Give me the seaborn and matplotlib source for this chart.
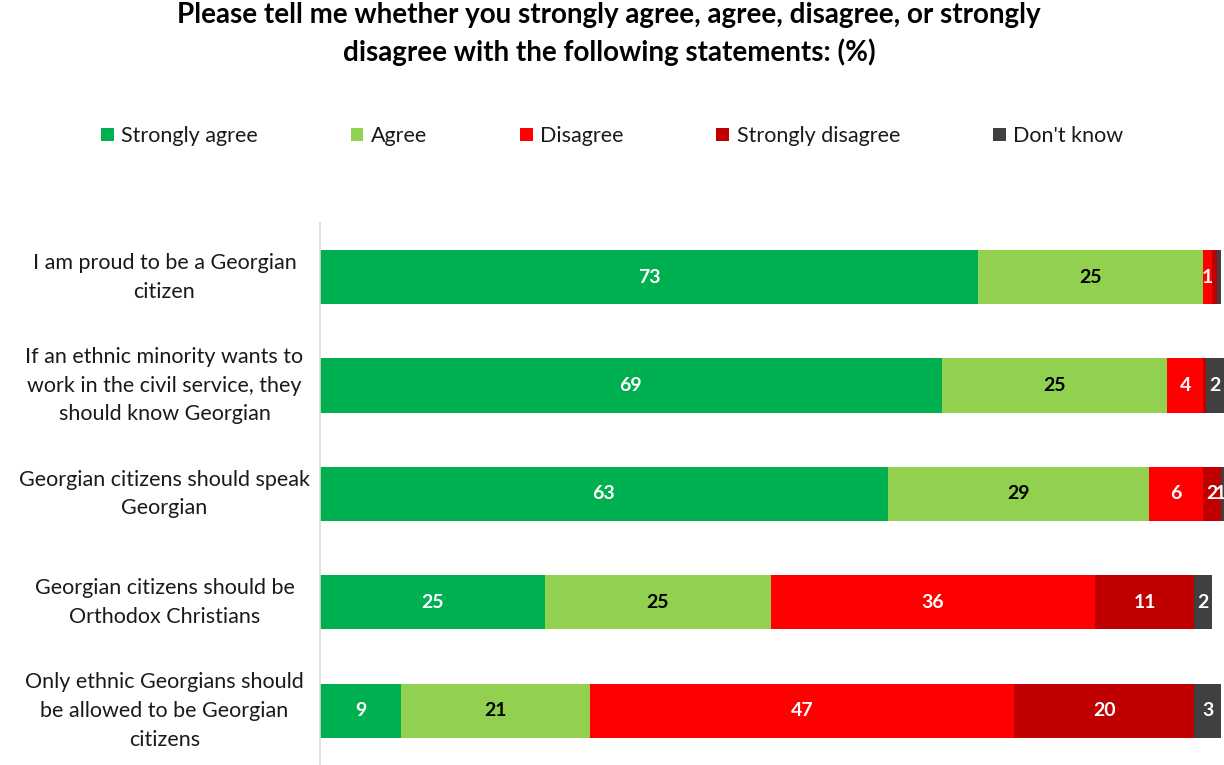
import matplotlib
matplotlib.use("Agg")
import matplotlib.pyplot as plt
import matplotlib.transforms as mtransforms
from matplotlib.patches import Patch
import pandas as pd
import seaborn as sns

# Survey statements (top to bottom)
statements = [
    "I am proud to be a Georgian\ncitizen",
    "If an ethnic minority wants to\nwork in the civil service, they\nshould know Georgian",
    "Georgian citizens should speak\nGeorgian",
    "Georgian citizens should be\nOrthodox Christians",
    "Only ethnic Georgians should\nbe allowed to be Georgian\ncitizens",
]

# Response shares (%)
strongly_agree = [73, 69, 63, 25, 9]
agree = [25, 25, 29, 25, 21]
disagree = [1, 4, 6, 36, 47]
strongly_disagree = [0.5, 0.3, 2, 11, 20]
dont_know = [0.5, 2, 1, 2, 3]

responses = ["Strongly agree", "Agree", "Disagree", "Strongly disagree", "Don't know"]
colors = ["#00B050", "#92D050", "#FF0000", "#C00000", "#404040"]
label_colors = ["white", "black", "white", "white", "white"]

title = ("Please tell me whether you strongly agree, agree, disagree, or strongly\n"
         "disagree with the following statements: (%)")

series = [strongly_agree, agree, disagree, strongly_disagree, dont_know]
df = pd.DataFrame({name: vals for name, vals in zip(responses, series)})
df["statement"] = statements
cum = df[responses].cumsum(axis=1)

sns.set_theme(style="white")
plt.rcParams["font.family"] = ["Lato", "DejaVu Sans"]

XMAX = 100.3

fig = plt.figure(figsize=(12.24, 7.65), dpi=100)
ax = fig.add_axes([0.2614, 0.0, 0.7386, 0.7085])

# Stacked bars: draw cumulative totals from the outermost segment inward
for name, col in reversed(list(zip(responses, colors))):
    sns.barplot(x=cum[name], y=df["statement"], color=col, orient="h",
                width=0.5, saturation=1, ax=ax, linewidth=0)

# Segment value labels
for i in range(len(statements)):
    left = 0.0
    for name, tc in zip(responses, label_colors):
        v = df.loc[i, name]
        if round(v) >= 1:
            xc = min(left + v / 2, XMAX - 0.4)
            ax.text(xc, i, f"{v:g}", ha="center", va="center",
                    color=tc, fontsize=14, fontweight="bold")
        left += v

ax.set_xlim(0, XMAX)
ax.set_ylim(4.5, -0.5)
ax.set_xlabel("")
ax.set_ylabel("")
ax.set_xticks([])
ax.set_yticks(range(len(statements)))
ax.set_yticklabels([])
ax.tick_params(axis="y", length=0)

# Category labels, centred in the left margin
trans = mtransforms.blended_transform_factory(ax.transAxes, ax.transData)
for i, s in enumerate(statements):
    ax.text(-0.172, i, s, transform=trans, ha="center", va="center",
            fontsize=15.5, linespacing=1.55, color="#1a1a1a")

for side in ["top", "right", "bottom"]:
    ax.spines[side].set_visible(False)
ax.spines["left"].set_color("#D9D9D9")
ax.spines["left"].set_linewidth(1.2)

fig.text(0.4975, 0.997, title, ha="center", va="top", fontsize=20,
         fontweight="bold", linespacing=1.45, color="black")

handles = [Patch(facecolor=c, edgecolor="none") for c in colors]
fig.legend(handles, responses, loc="center", bbox_to_anchor=(0.5, 0.822),
           ncol=5, frameon=False, fontsize=15.5, handlelength=0.6,
           handleheight=0.6, handletextpad=0.35, columnspacing=4.3,
           labelcolor="#1a1a1a")

fig.savefig("out.png", dpi=100)
